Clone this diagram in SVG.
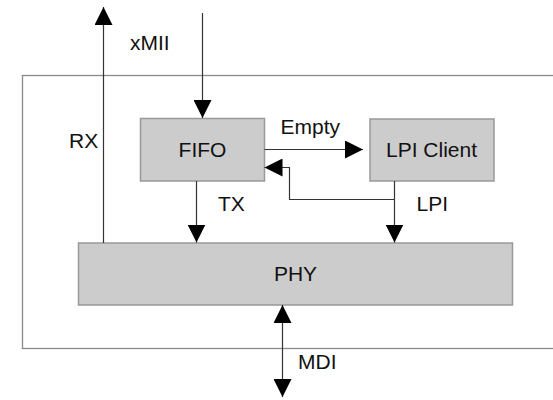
<svg xmlns="http://www.w3.org/2000/svg" width="553" height="400" viewBox="0 0 553 400">
  <style>
    text { font-family: "Liberation Sans", Arial, sans-serif; font-size: 21px; fill: #111; }
    .box { fill: #cccccc; stroke: #999999; stroke-width: 1.5; }
    .frame { fill: none; stroke: #8a8a8a; stroke-width: 1.3; }
    .wire { fill: none; stroke: #333333; stroke-width: 1.2; }
    .arrow { marker-end: url(#head); }
    .both { marker-start: url(#head); marker-end: url(#head); }
  </style>
  <defs>
    <marker id="head" viewBox="0 0 18 18" refX="18" refY="9" markerWidth="18" markerHeight="18" markerUnits="userSpaceOnUse" orient="auto-start-reverse">
      <path d="M0,0 L18,9 L0,18 z" fill="#000"/>
    </marker>
  </defs>

  <!-- enclosing block -->
  <rect class="frame" x="22.5" y="75.5" width="545" height="273"/>

  <g id="fifo">
    <rect class="box" x="140.5" y="118.5" width="124" height="62.5"/>
    <text x="202.5" y="157" text-anchor="middle">FIFO</text>
  </g>

  <g id="lpi-client">
    <rect class="box" x="370" y="119" width="124" height="62"/>
    <text x="431.5" y="157" text-anchor="middle">LPI Client</text>
  </g>

  <g id="phy">
    <rect class="box" x="78.5" y="243" width="434" height="62"/>
    <text x="295.5" y="281" text-anchor="middle">PHY</text>
  </g>

  <g id="connectors">
    <path class="wire arrow" d="M103.5,243 V7"/>
    <path class="wire arrow" d="M202.5,13 V118"/>
    <path class="wire arrow" d="M196.5,181 V242.5"/>
    <path class="wire arrow" d="M264.5,149.5 H363"/>
    <path class="wire arrow" d="M394.5,181 V242.5"/>
    <path class="wire arrow" d="M394.5,199.5 H289.5 V167.5 H264.5"/>
    <path class="wire both" d="M282.5,305 V397"/>
  </g>

  <g id="labels">
    <text x="130" y="50">xMII</text>
    <text x="69" y="148">RX</text>
    <text x="280.5" y="134">Empty</text>
    <text x="218" y="211">TX</text>
    <text x="416.5" y="211">LPI</text>
    <text x="298" y="369">MDI</text>
  </g>
</svg>
